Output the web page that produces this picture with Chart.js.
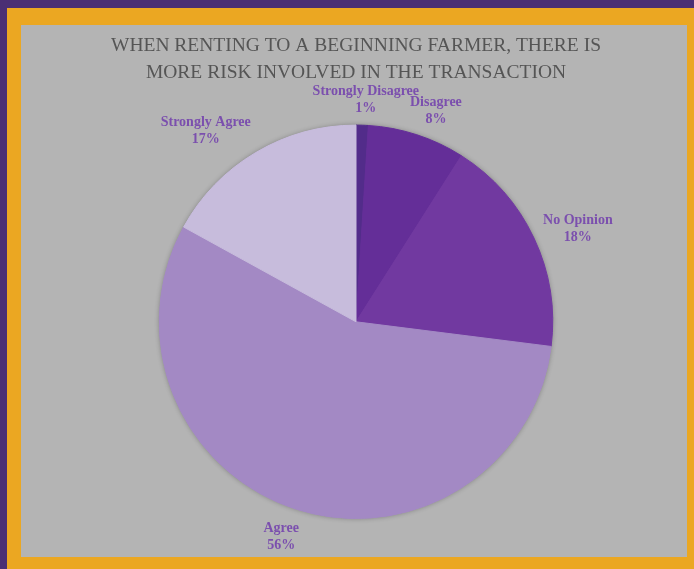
<!DOCTYPE html>
<html>
<head>
<meta charset="utf-8">
<script src="https://cdn.jsdelivr.net/npm/chart.js@4/dist/chart.umd.min.js"></script>
<style>
    html, body { margin: 0; padding: 0; }
    body { width: 694px; height: 569px; background: #4a2f74; position: relative; overflow: hidden; }
    .frame { position: absolute; left: 7px; top: 8px; width: 687px; height: 561px; background: #eba722; }
    .panel { position: absolute; left: 21px; top: 25px; width: 666px; height: 532px; background: #b4b4b4; }
    canvas { display: block; }
</style>
</head>
<body>
<div class="frame"></div>
<div class="panel"><canvas id="pieChart" width="666" height="532"></canvas></div>
<script>
const TITLE_LINES = ['WHEN RENTING TO A BEGINNING FARMER, THERE IS', 'MORE RISK INVOLVED IN THE TRANSACTION'];
const CATEGORIES = ['Strongly Disagree', 'Disagree', 'No Opinion', 'Agree', 'Strongly Agree'];
const PERCENTS = [1, 8, 18, 56, 17];
const SLICE_COLORS = ['#522c8a', '#642e98', '#7139a0', '#a389c4', '#c7bcdc'];

const LABEL_FONT = 'bold 14px "Liberation Serif", serif';
const LABEL_COLOR = '#7b4fae';
const LABEL_LINE = 17;
const LABEL_GAP = 10;
const LABEL_DROP = 2;

// soft shadow under the whole pie
const pieShadow = {
    id: 'pieShadow',
    beforeDatasetsDraw(chart) {
        const arc = chart.getDatasetMeta(0).data[0];
        if (!arc) return;
        const ctx = chart.ctx;
        ctx.save();
        ctx.shadowColor = 'rgba(0, 0, 0, 0.3)';
        ctx.shadowBlur = 5;
        ctx.fillStyle = '#a389c4';
        ctx.beginPath();
        ctx.arc(arc.x, arc.y, arc.outerRadius, 0, Math.PI * 2);
        ctx.fill();
        ctx.restore();
    }
};

// outside-end data labels: category name + percent
const outsideLabels = {
    id: 'outsideLabels',
    afterDatasetsDraw(chart) {
        const ctx = chart.ctx;
        const arcs = chart.getDatasetMeta(0).data;
        ctx.save();
        ctx.font = LABEL_FONT;
        ctx.fillStyle = LABEL_COLOR;
        ctx.textAlign = 'center';
        ctx.textBaseline = 'middle';
        arcs.forEach((arc, i) => {
            const lines = [CATEGORIES[i], `${PERCENTS[i]}%`];
            const w = Math.max(...lines.map(t => ctx.measureText(t).width));
            const h = lines.length * LABEL_LINE;
            const mid = (arc.startAngle + arc.endAngle) / 2;
            const r = arc.outerRadius + LABEL_GAP;
            const px = arc.x + r * Math.cos(mid);
            const py = arc.y + r * Math.sin(mid);
            const push = Math.max(-1, Math.min(1, 2 * Math.cos(mid)));
            const cx = px + (w / 2) * push;
            const cy = py + (h / 2) * Math.sin(mid) + LABEL_DROP;
            lines.forEach((t, j) => {
                ctx.fillText(t, cx, cy - h / 2 + LABEL_LINE * (j + 0.5));
            });
        });
        ctx.restore();
    }
};

new Chart(document.getElementById('pieChart'), {
    type: 'pie',
    data: {
        labels: CATEGORIES,
        datasets: [{
            data: PERCENTS,
            backgroundColor: SLICE_COLORS,
            borderColor: SLICE_COLORS,
            borderWidth: 1,
        }]
    },
    options: {
        responsive: false,
        animation: false,
        layout: { padding: { left: 4, bottom: 38 } },
        plugins: {
            legend: { display: false },
            tooltip: { enabled: false },
            title: {
                display: true,
                text: TITLE_LINES,
                color: '#555555',
                font: { family: '"Liberation Serif", serif', size: 19.5, weight: 'normal', lineHeight: 1.4 },
                padding: { top: 7, bottom: 38 }
            }
        }
    },
    plugins: [pieShadow, outsideLabels]
});
</script>
</body>
</html>
